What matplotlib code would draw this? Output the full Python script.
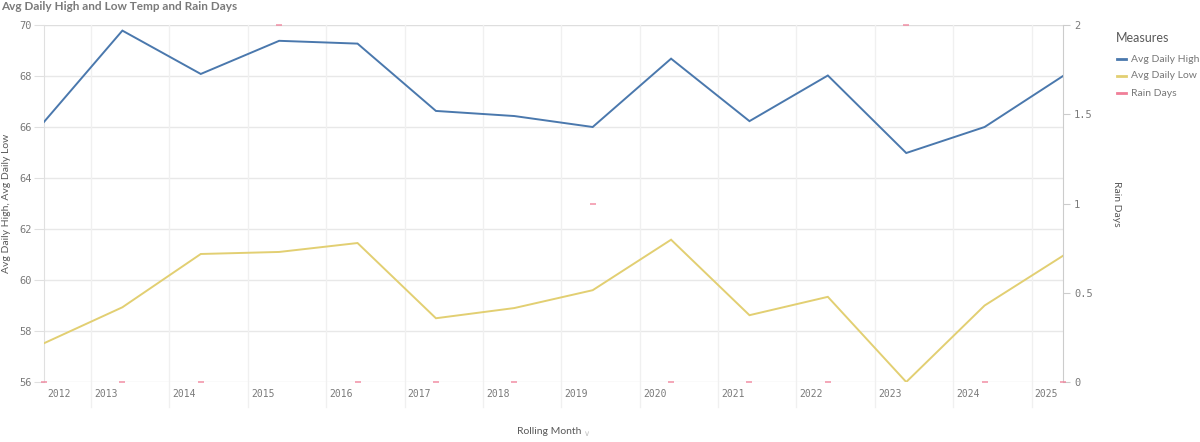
import matplotlib
matplotlib.use("Agg")
import matplotlib.pyplot as plt

years = [2012, 2013, 2014, 2015, 2016, 2017, 2018, 2019, 2020, 2021, 2022, 2023, 2024, 2025]
avg_high = [66.2, 69.78, 68.08, 69.38, 69.27, 66.63, 66.43, 66.0, 68.68, 66.23, 68.02, 64.98, 66.0, 68.0]
avg_low = [57.52, 58.93, 61.02, 61.1, 61.45, 58.5, 58.9, 59.6, 61.58, 58.62, 59.34, 56.0, 59.0, 60.95]
rain_days = [0, 0, 0, 2, 0, 0, 0, 1, 0, 0, 0, 2, 0, 0]
left_ticks = [56, 58, 60, 62, 64, 66, 68, 70]
right_ticks = [0, 0.5, 1, 1.5, 2]
right_tick_labels = ["0", "0.5", "1", "1.5", "2"]
year_labels = [str(y) for y in years]

C_HIGH = "#4a78ad"
C_LOW = "#e2cf72"
C_RAIN = "#f07f98"
GREY_TXT = "#7a7a7a"
GRID = "#e8e8e8"

plt.rcParams['font.family'] = ['Lato', 'DejaVu Sans']

fig = plt.figure(figsize=(12, 4.42), dpi=100)
ax = fig.add_axes([44/1200, 1-382/442, (1063-44)/1200, (382-25)/442])
ax2 = ax.twinx()

offset = 0.4
x = [y + offset for y in years]
ax.set_xlim(x[0], x[-1])
ax.set_ylim(56, 70)
ax2.set_ylim(0, 2)

# horizontal grid
for t in left_ticks:
    ax.axhline(t, color=GRID if t != 70 else "#dedede", lw=1.0, zorder=0)

# vertical year separators, extending below the axis
for y in years[1:]:
    ax.axvline(y, ymin=-0.07, ymax=1, color="#f0f0f0", lw=1.0, zorder=0, clip_on=False)

ax.plot(x, avg_high, color=C_HIGH, lw=1.4, zorder=3, solid_joinstyle='miter')
ax.plot(x, avg_low, color=C_LOW, lw=1.4, zorder=3, solid_joinstyle='miter')
ax2.plot(x, rain_days, linestyle='none', marker='_', markersize=4, mew=1.2,
         color=C_RAIN, alpha=0.8, clip_on=False, zorder=4)

# spines
for s in ["top", "bottom"]:
    ax.spines[s].set_visible(False)
    ax2.spines[s].set_visible(False)
ax.spines["left"].set_color("#e0e0e0")
ax.spines["right"].set_visible(False)
ax2.spines["left"].set_visible(False)
ax2.spines["right"].set_color("#cccccc")

ax.set_xticks([])
ax.set_yticks(left_ticks)
ax.set_yticklabels([str(t) for t in left_ticks], family='DejaVu Sans Mono',
                   fontsize=7.5, color=GREY_TXT)
ax.tick_params(axis='y', length=7, color="#e0e0e0", pad=2)
ax2.set_yticks(right_ticks)
ax2.set_yticklabels(right_tick_labels, family='DejaVu Sans Mono', fontsize=7.5, color=GREY_TXT)
ax2.tick_params(axis='y', length=5, color="#cccccc", pad=3)

# year labels
for i, y in enumerate(years):
    xpos = max(y, x[0]) + 0.04
    ax.text(xpos, -0.02, year_labels[i], transform=ax.get_xaxis_transform(),
            ha='left', va='top', family='DejaVu Sans Mono', fontsize=7, color=GREY_TXT)

ax.set_ylabel("Avg Daily High, Avg Daily Low", fontsize=7.5, color="#595959", labelpad=6)
ax2.set_ylabel("Rain Days", fontsize=7.5, color="#595959", rotation=270, labelpad=20)

fig.text(549/1200, 1-432/442, "Rolling Month", fontsize=7.5, color="#595959",
         ha='center', va='center')
fig.text(587/1200, 1-433/442, "\u2228", fontsize=6, color="#c4c4c4",
         ha='center', va='center', family='DejaVu Sans')

fig.text(1/1200, 1-7/442, "Avg Daily High and Low Temp and Rain Days", fontsize=8.5,
         fontweight='bold', color="#7a7a7a", ha='left', va='center')

# legend
fig.text(1116/1200, 1-38/442, "Measures", fontsize=9, color="#595959", ha='left', va='center')
for j, (lab, col) in enumerate([("Avg Daily High", C_HIGH), ("Avg Daily Low", C_LOW), ("Rain Days", C_RAIN)]):
    yy = 1-(59+17*j)/442
    fig.add_artist(plt.Line2D([1117/1200, 1126/1200], [yy, yy], color=col, lw=2))
    fig.text(1131/1200, yy, lab, fontsize=7.5, color="#777777", ha='left', va='center')

fig.savefig("out.png", dpi=100, facecolor='white')
